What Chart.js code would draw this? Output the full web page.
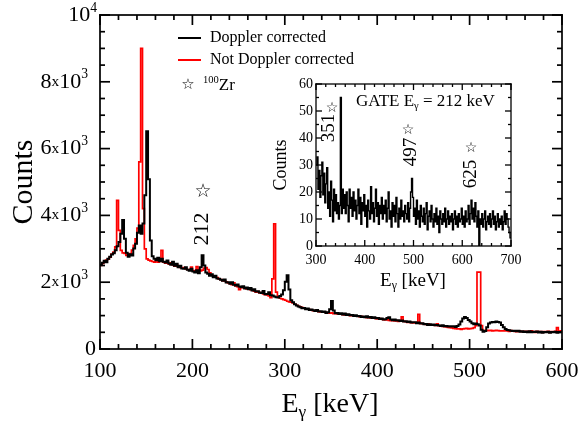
<!DOCTYPE html>
<html>
<head>
<meta charset="utf-8">
<script src="https://cdn.jsdelivr.net/npm/chart.js@4.4.1/dist/chart.umd.min.js"></script>
<style>
  html, body { margin: 0; padding: 0; background: #fff; }
  #wrap { position: relative; width: 579px; height: 423px; }
  #main { position: absolute; left: 0; top: 0; }
  #inset { position: absolute; left: 250px; top: 70px; }
</style>
</head>
<body>
<div id="wrap">
  <canvas id="main" width="579" height="423"></canvas>
  <canvas id="inset" width="280" height="230"></canvas>
</div>
<script>
// main spectrum: 2 keV bins starting at 100 keV
const binStart = 100;
const binWidth = 2;
const dopplerCorrected = [
  2520, 2580, 2640, 2600, 2700, 2760, 2830, 2870, 2960, 3080,
  3200, 3450, 3860, 3300, 2880, 2760, 2840, 2800, 3010, 3150,
  3480, 3700, 3450, 3760, 4600, 6520, 5080, 3250, 2780, 2700,
  2660, 2730, 2630, 2700, 2610, 2590, 2650, 2560, 2520, 2610,
  2490, 2550, 2450, 2490, 2410, 2400, 2450, 2370, 2340, 2400,
  2320, 2290, 2360, 2270, 2450, 2810, 2500, 2290, 2250, 2190,
  2240, 2150, 2190, 2110, 2100, 2070, 2040, 2080, 1990, 2000,
  1950, 2000, 1920, 1900, 1930, 1870, 1850, 1880, 1810, 1840,
  1790, 1830, 1750, 1790, 1720, 1730, 1690, 1680, 1740, 1640,
  1650, 1700, 1610, 1600, 1570, 1550, 1540, 1590, 1630, 1760,
  2010, 2210, 1780, 1460, 1400, 1340, 1300, 1270, 1250, 1220,
  1230, 1190, 1210, 1170, 1180, 1160, 1140, 1170, 1120, 1130,
  1110, 1120, 1080, 1100, 1190, 1440, 1150, 1070, 1080, 1050,
  1070, 1030, 1060, 1020, 1040, 1010, 1020, 990, 1010, 980,
  990, 960, 970, 950, 980, 940, 960, 930, 950, 920,
  930, 900, 910, 880, 890, 930, 950, 880, 860, 880,
  850, 860, 840, 850, 820, 830, 810, 820, 790, 800,
  800, 770, 790, 760, 770, 740, 750, 720, 740, 720,
  730, 710, 720, 700, 690, 710, 680, 690, 670, 680,
  670, 680, 660, 690, 730, 820, 910, 960, 930, 870,
  820, 770, 740, 760, 740, 700, 580, 520, 540, 650,
  760, 790, 810, 800, 820, 810, 790, 720, 650, 600,
  570, 560, 550, 540, 545, 530, 545, 520, 530, 510,
  525, 505, 530, 500, 520, 510, 525, 495, 515, 490,
  510, 500, 520, 490, 510, 500, 520, 485, 510, 500
];
const notCorrected = [
  2500, 2560, 2610, 2660, 2690, 2750, 2840, 2900, 3060, 4450,
  3550, 2950, 2880, 2860, 2800, 2830, 2860, 2960, 3100, 3300,
  3620, 5600, 9000, 4200, 3000, 2700, 2660, 2640, 2620, 2600,
  2650, 2600, 2620, 2950, 2600, 2570, 2610, 2540, 2580, 2520,
  2480, 2530, 2460, 2440, 2420, 2440, 2400, 2380, 2360, 2450,
  2350, 2320, 2470, 2380, 2340, 2360, 2420, 2440, 2380, 2280,
  2210, 2170, 2150, 2140, 2090, 2080, 2050, 2040, 2010, 1980,
  1960, 1930, 1980, 1890, 1870, 1780, 1860, 1840, 1820, 1800,
  1790, 1780, 1760, 1730, 1700, 1720, 1680, 1690, 1650, 1630,
  1620, 1590, 1540, 2100, 3750, 1700, 1560, 1520, 1500, 1480,
  1460, 1430, 1410, 1400, 1380, 1340, 1310, 1280, 1260, 1240,
  1220, 1200, 1190, 1180, 1160, 1150, 1140, 1150, 1120, 1110,
  1100, 1110, 1080, 1090, 1070, 1080, 1060, 1070, 1050, 1040,
  1050, 1030, 1020, 1030, 1010, 1000, 1010, 990, 980, 990,
  970, 980, 950, 960, 940, 950, 930, 920, 930, 910,
  900, 910, 890, 880, 870, 880, 860, 850, 860, 840,
  850, 830, 840, 960, 830, 820, 800, 810, 790, 780,
  790, 780, 1040, 770, 760, 750, 740, 750, 730, 720,
  720, 710, 750, 700, 690, 680, 670, 660, 650, 640,
  630, 620, 610, 600, 605, 590, 600, 610, 620, 600,
  610, 620, 640, 700, 2300, 2300, 700, 560, 550, 560,
  550, 560, 540, 550, 560, 550, 540, 545, 540, 550,
  540, 530, 550, 540, 530, 520, 540, 530, 520, 530,
  520, 530, 510, 540, 520, 500, 530, 510, 520, 500,
  520, 510, 530, 500, 520, 510, 530, 640, 520, 540
];

// inset: gate on 212 keV, 2 keV bins starting at 300 keV
const gateStart = 300;
const gateWidth = 2;
const gate212 = [
  30, 33, 21, 28, 18, 26, 31, 19, 27, 16,
  23, 29, 14, 20, 11, 24, 17, 9, 21, 13,
  19, 12, 16, 10, 15, 55, 12, 21, 14, 19,
  12, 20, 15, 9, 21, 14, 18, 11, 20, 13,
  17, 10, 15, 21, 12, 18, 8, 16, 13, 19,
  11, 15, 7, 17, 13, 10, 22, 12, 16, 9,
  14, 21, 11, 16, 8, 15, 12, 18, 10, 15,
  12, 17, 9, 14, 20, 10, 13, 7, 16, 11,
  15, 9, 18, 12, 7, 14, 10, 17, 11, 13,
  9, 15, 12, 10, 16, 9, 14, 20, 25, 18,
  11, 14, 8, 17, 10, 13, 7, 15, 11, 9,
  14, 8, 12, 16, 6, 11, 13, 9, 15, 10,
  7, 12, 9, 14, 8, 11, 5, 13, 10, 8,
  12, 9, 14, 7, 10, 13, 8, 11, 9, 12,
  6, 10, 13, 8, 11, 7, 12, 9, 10, 14,
  8, 11, 7, 13, 9, 10, 15, 8, 12, 17,
  10, 14, 9, 16, 11, 7, 13, 0, 10, 8,
  12, 7, 10, 13, 6, 9, 11, 8, 12, 7,
  10, 13, 8, 11, 6, 9, 12, 7, 10, 8,
  11, 6, 9, 13, 8, 12, 10, 7, 5, 3
];

const mainTicksX = [100, 200, 300, 400, 500, 600];
const mainTicksY = [0, 2000, 4000, 6000, 8000, 10000];
const gateTicksX = [300, 400, 500, 600, 700];
const gateTicksY = [0, 10, 20, 30, 40, 50, 60];

const SERIF = '"Liberation Serif", "Times New Roman", serif';
const STAR = '"DejaVu Sans", sans-serif';

// histogram -> points at bin edges, drawn with stepped lines
function toSteps(vals, start, w) {
  const pts = vals.map((v, i) => ({ x: start + w * i, y: v }));
  pts.push({ x: start + w * vals.length, y: vals[vals.length - 1] });
  return pts;
}

// text with sub/superscript pieces
function drawRich(ctx, parts, x, y, size, align, rot) {
  ctx.save();
  ctx.translate(x, y);
  if (rot) ctx.rotate(rot);
  ctx.textBaseline = 'middle';
  ctx.textAlign = 'left';
  ctx.fillStyle = '#000';
  const seg = parts.map(([t, k]) => {
    const s = k === 'sub' || k === 'sup' ? size * 0.62 : k === 'small' ? size * 0.7 : size;
    ctx.font = s + 'px ' + SERIF;
    return { t, k, s, w: ctx.measureText(t).width };
  });
  const total = seg.reduce((a, g) => a + g.w, 0);
  let cx = align === 'center' ? -total / 2 : align === 'right' ? -total : 0;
  for (const g of seg) {
    ctx.font = g.s + 'px ' + SERIF;
    const dy = g.k === 'sub' ? size * 0.28 : g.k === 'sup' ? -size * 0.32 : 0;
    ctx.fillText(g.t, cx, dy);
    cx += g.w;
  }
  ctx.restore();
}

function drawStar(ctx, x, y, size) {
  ctx.save();
  ctx.font = size + 'px ' + STAR;
  ctx.textAlign = 'center';
  ctx.textBaseline = 'middle';
  ctx.fillStyle = '#000';
  ctx.fillText('\u2606', x, y);
  ctx.restore();
}

// box with inward major/minor ticks on all four sides
function makeFrame(o) {
  return {
    id: 'frame',
    afterDraw(chart) {
      const ctx = chart.ctx;
      const a = chart.chartArea;
      const sx = chart.scales.x;
      const sy = chart.scales.y;
      const w = o.width;
      ctx.save();
      ctx.fillStyle = '#000';
      const nx = Math.round((sx.max - sx.min) / o.xMinor);
      for (let i = 0; i <= nx; i++) {
        const p = sx.getPixelForValue(sx.min + i * o.xMinor);
        const len = (i * o.xMinor) % o.xMajor === 0 ? o.major : o.minor;
        ctx.fillRect(p - w / 2, a.bottom - len, w, len);
        ctx.fillRect(p - w / 2, a.top, w, len);
      }
      const ny = Math.round((sy.max - sy.min) / o.yMinor);
      for (let i = 0; i <= ny; i++) {
        const p = sy.getPixelForValue(sy.min + i * o.yMinor);
        const len = (i * o.yMinor) % o.yMajor === 0 ? o.major : o.minor;
        ctx.fillRect(a.left, p - w / 2, len, w);
        ctx.fillRect(a.right - len, p - w / 2, len, w);
      }
      ctx.fillRect(a.left - w / 2, a.top - w / 2, a.right - a.left + w, w);
      ctx.fillRect(a.left - w / 2, a.bottom - w / 2, a.right - a.left + w, w);
      ctx.fillRect(a.left - w / 2, a.top - w / 2, w, a.bottom - a.top + w);
      ctx.fillRect(a.right - w / 2, a.top - w / 2, w, a.bottom - a.top + w);
      ctx.restore();
    }
  };
}

const mainText = {
  id: 'mainText',
  afterDraw(chart) {
    const { ctx } = chart;
    const { x, y } = chart.scales;
    // y tick labels with powers of ten
    mainTicksY.forEach(v => {
      const py = y.getPixelForValue(v);
      if (v === 0) drawRich(ctx, [['0', '']], 96, py, 22, 'right');
      else if (v === 10000) drawRich(ctx, [['10', ''], ['4', 'sup']], 97, py, 22, 'right');
      else drawRich(ctx, [[String(v / 1000), ''], ['x', 'small'], ['10', ''], ['3', 'sup']], 88, py, 22, 'right');
    });
    drawRich(ctx, [['Counts', '']], 24, 182, 30, 'center', -Math.PI / 2);
    drawRich(ctx, [['E', ''], ['\u03b3', 'sub'], [' [keV]', '']], 330, 405, 28, 'center');

    // legend
    ctx.save();
    ctx.lineWidth = 2;
    ctx.strokeStyle = '#000';
    ctx.beginPath(); ctx.moveTo(178, 38); ctx.lineTo(201, 38); ctx.stroke();
    ctx.strokeStyle = '#ff0000';
    ctx.beginPath(); ctx.moveTo(178, 60); ctx.lineTo(201, 60); ctx.stroke();
    ctx.restore();
    drawRich(ctx, [['Doppler corrected', '']], 210, 38, 16, 'left');
    drawRich(ctx, [['Not Doppler corrected', '']], 210, 60, 16, 'left');
    drawStar(ctx, 188, 85, 15);
    drawRich(ctx, [['100', 'sup'], ['Zr', '']], 203, 86, 17, 'left');

    // peak mark
    drawStar(ctx, x.getPixelForValue(211.5), y.getPixelForValue(4700), 19);
    drawRich(ctx, [['212', '']], x.getPixelForValue(210.4), y.getPixelForValue(3590), 22, 'center', -Math.PI / 2);
  }
};

const gateText = {
  id: 'gateText',
  afterDraw(chart) {
    const { ctx } = chart;
    const { x, y } = chart.scales;
    drawRich(ctx, [['Counts', '']], 31, 95, 18, 'center', -Math.PI / 2);
    drawRich(ctx, [['E', ''], ['\u03b3', 'sub'], [' [keV]', '']], 163, 211, 19, 'center');
    drawRich(ctx, [['GATE E', ''], ['\u03b3', 'sub'], [' = 212 keV', '']],
      x.getPixelForValue(382), y.getPixelForValue(53.5), 17, 'left');
    drawStar(ctx, x.getPixelForValue(333), y.getPixelForValue(51), 14);
    drawRich(ctx, [['351', '']], x.getPixelForValue(327), y.getPixelForValue(43.7), 19, 'center', -Math.PI / 2);
    drawStar(ctx, x.getPixelForValue(489), y.getPixelForValue(43), 14);
    drawRich(ctx, [['497', '']], x.getPixelForValue(495), y.getPixelForValue(34.8), 19, 'center', -Math.PI / 2);
    drawStar(ctx, x.getPixelForValue(618), y.getPixelForValue(36.3), 14);
    drawRich(ctx, [['625', '']], x.getPixelForValue(618), y.getPixelForValue(26.7), 19, 'center', -Math.PI / 2);
  }
};

new Chart(document.getElementById('main'), {
  type: 'line',
  data: {
    datasets: [{
      label: 'Doppler corrected',
      data: toSteps(dopplerCorrected, binStart, binWidth),
      borderColor: '#000000',
      borderWidth: 2,
      stepped: true,
      pointRadius: 0,
      order: 0
    },
    {
      label: 'Not Doppler corrected',
      data: toSteps(notCorrected, binStart, binWidth),
      borderColor: '#ff0000',
      borderWidth: 1.7,
      stepped: true,
      pointRadius: 0,
      order: 1
    }]
  },
  options: {
    responsive: false,
    animation: false,
    devicePixelRatio: 1,
    layout: { padding: { top: 15, right: 17, left: 0, bottom: 0 } },
    plugins: {
      legend: { display: false },
      tooltip: { enabled: false }
    },
    scales: {
      x: {
        type: 'linear',
        min: mainTicksX[0],
        max: mainTicksX[mainTicksX.length - 1],
        afterBuildTicks: s => { s.ticks = mainTicksX.map(v => ({ value: v })); },
        afterFit: s => { s.height = 74; s.paddingLeft = 0; s.paddingRight = 0; },
        grid: { display: false, drawTicks: false },
        border: { display: false },
        ticks: { color: '#000', padding: 9, maxRotation: 0, font: { family: SERIF, size: 22 } }
      },
      y: {
        min: mainTicksY[0],
        max: mainTicksY[mainTicksY.length - 1],
        afterBuildTicks: s => { s.ticks = mainTicksY.map(v => ({ value: v })); },
        afterFit: s => { s.width = 100; s.paddingTop = 0; s.paddingBottom = 0; },
        grid: { display: false, drawTicks: false },
        border: { display: false },
        ticks: { display: false }
      }
    }
  },
  plugins: [makeFrame({ width: 1.7, major: 10, minor: 5, xMinor: 20, xMajor: 100, yMinor: 500, yMajor: 2000 }), mainText]
});

new Chart(document.getElementById('inset'), {
  type: 'line',
  data: {
    datasets: [{
      label: 'GATE 212 keV',
      data: toSteps(gate212, gateStart, gateWidth),
      borderColor: '#000000',
      borderWidth: 1.4,
      stepped: true,
      pointRadius: 0
    }]
  },
  options: {
    responsive: false,
    animation: false,
    devicePixelRatio: 1,
    layout: { padding: { top: 14, right: 19, left: 0, bottom: 0 } },
    plugins: {
      legend: { display: false },
      tooltip: { enabled: false }
    },
    scales: {
      x: {
        type: 'linear',
        min: gateTicksX[0],
        max: gateTicksX[gateTicksX.length - 1],
        afterBuildTicks: s => { s.ticks = gateTicksX.map(v => ({ value: v })); },
        afterFit: s => { s.height = 54; s.paddingLeft = 0; s.paddingRight = 0; },
        grid: { display: false, drawTicks: false },
        border: { display: false },
        ticks: { color: '#000', padding: 6, maxRotation: 0, font: { family: SERIF, size: 14 } }
      },
      y: {
        min: gateTicksY[0],
        max: gateTicksY[gateTicksY.length - 1],
        afterBuildTicks: s => { s.ticks = gateTicksY.map(v => ({ value: v })); },
        afterFit: s => { s.width = 66; s.paddingTop = 0; s.paddingBottom = 0; },
        grid: { display: false, drawTicks: false },
        border: { display: false },
        ticks: { color: '#000', padding: 3, font: { family: SERIF, size: 14 } }
      }
    }
  },
  plugins: [makeFrame({ width: 1.3, major: 6, minor: 3, xMinor: 20, xMajor: 100, yMinor: 5, yMajor: 10 }), gateText]
});
</script>
</body>
</html>
